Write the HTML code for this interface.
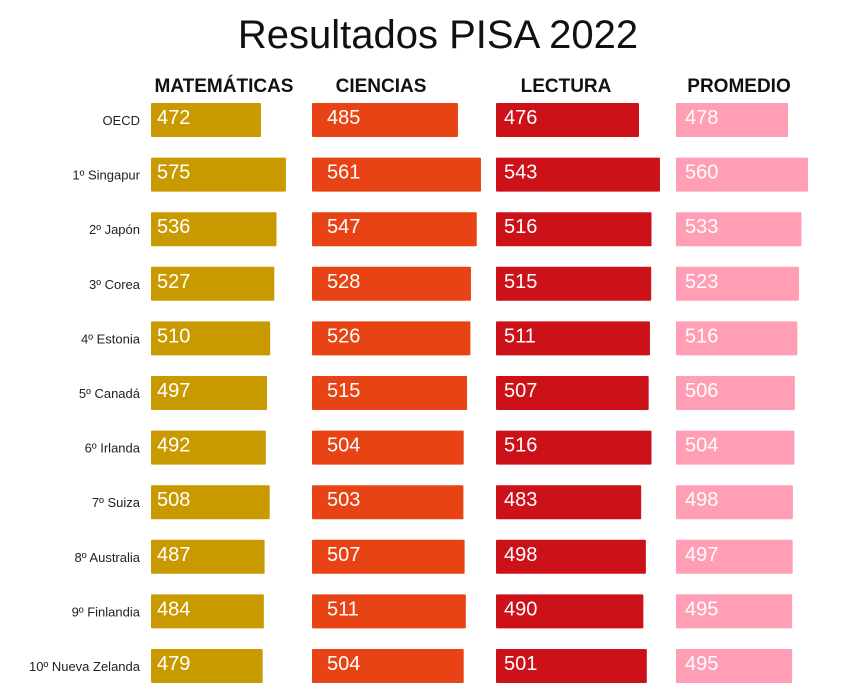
<!DOCTYPE html>
<html><head><meta charset="utf-8"><style>
body{margin:0;background:#fff;}
svg{display:block;font-family:"Liberation Sans",sans-serif;}
</style></head><body>
<svg id="chart" width="863" height="698">
<text x="438" y="48" text-anchor="middle" font-size="40" fill="#111">Resultados PISA 2022</text>
</svg>
<script>
const countries=["OECD","1º Singapur","2º Japón","3º Corea","4º Estonia","5º Canadá","6º Irlanda","7º Suiza","8º Australia","9º Finlandia","10º Nueva Zelanda"];
const columns=["MATEMÁTICAS","CIENCIAS","LECTURA","PROMEDIO"];
const mathValues=[472,575,536,527,510,497,492,508,487,484,479];
const scienceValues=[485,561,547,528,526,515,504,503,507,511,504];
const readingValues=[476,543,516,515,511,507,516,483,498,490,501];
const averageValues=[478,560,533,523,516,506,504,498,497,495,495];
const series=[mathValues,scienceValues,readingValues,averageValues];
const colX=[151,312,496,676];
const colScale=[[0.2427,-4.6],[0.303,-1],[0.313,-6],[0.244,-4.6]];
const colors=["#C99A00","#E84314","#CC1119","#FF9EB5"];
const textOff=[6,15,8,9];
const headX=[224,381,566,739];
const svg=document.getElementById('chart');
const NS="http://www.w3.org/2000/svg";
function rowY(i){return 103+i*54.6;}
function bw(c,v){return v*colScale[c][0]+colScale[c][1];}
columns.forEach((h,c)=>{
  const t=document.createElementNS(NS,'text');
  t.setAttribute('x',headX[c]);t.setAttribute('y',92);t.setAttribute('text-anchor','middle');
  t.setAttribute('font-size','19');t.setAttribute('font-weight','bold');t.setAttribute('fill','#111');
  t.textContent=h;
  
  
  svg.appendChild(t);
});
countries.forEach((name,i)=>{
  const y=rowY(i);
  const l=document.createElementNS(NS,'text');
  l.setAttribute('x',140);l.setAttribute('y',y+22);l.setAttribute('text-anchor','end');
  l.setAttribute('font-size','13');l.setAttribute('fill','#222');
  l.textContent=name;
  
  
  svg.appendChild(l);
  series.forEach((vals,c)=>{
    const r=document.createElementNS(NS,'rect');
    r.setAttribute('x',colX[c]);r.setAttribute('y',y);
    r.setAttribute('width',bw(c,vals[i]));r.setAttribute('height',34);
    r.setAttribute('rx',1);r.setAttribute('fill',colors[c]);
    
    
    svg.appendChild(r);
    const t=document.createElementNS(NS,'text');
    t.setAttribute('x',colX[c]+textOff[c]);t.setAttribute('y',y+21);
    t.setAttribute('font-size','20');t.setAttribute('fill','#fff');
    t.textContent=vals[i];
    
    
    svg.appendChild(t);
  });
});
</script>
</body></html>
